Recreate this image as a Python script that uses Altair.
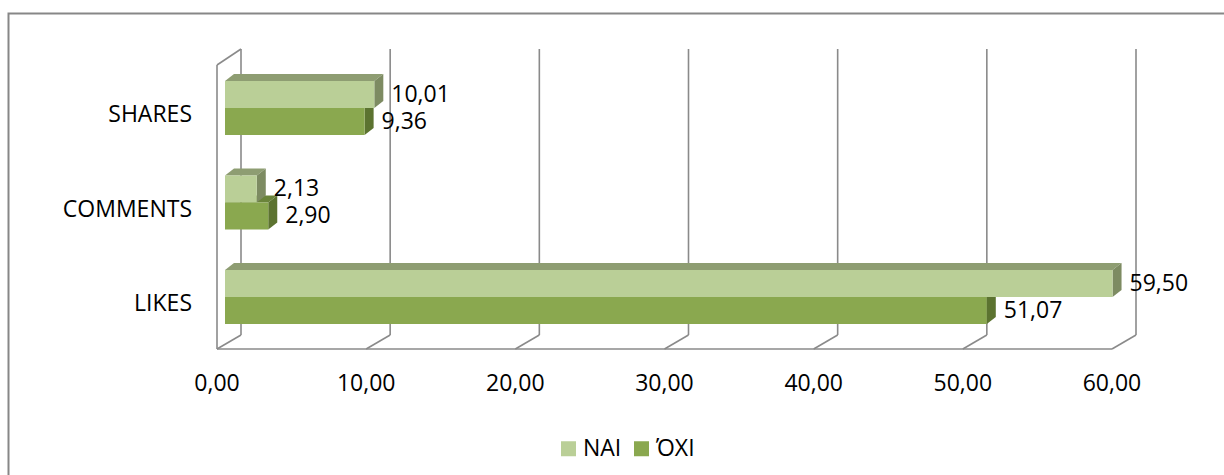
import altair as alt
import pandas as pd

# ---- data -------------------------------------------------------------
CATEGORIES = ["LIKES", "COMMENTS", "SHARES"]          # bottom to top
SERIES = ["ΝΑΙ", "ΌΧΙ"]
NAI_VALUES = [59.50, 2.13, 10.01]
OXI_VALUES = [51.07, 2.90, 9.36]
X_TICKS = [0, 10, 20, 30, 40, 50, 60]

# ---- layout (pixels) ----------------------------------------------------
LEFT, TOP, PLOT_W, PLOT_H = 225, 40, 895, 320
X_MAX = 60
PX_PER_UNIT = PLOT_W / X_MAX
ROW_PX = 94.5                 # distance between category rows
ROW0_PX = 257                 # plot-y of the LIKES row centre line


def ux(px):
    return px / PX_PER_UNIT


def uy(px):
    return px / ROW_PX


Y_DOMAIN = [(ROW0_PX - PLOT_H) / ROW_PX, ROW0_PX / ROW_PX]

BAR_H = uy(27)                # height of one bar
DEPTH_X, DEPTH_Y = ux(9), uy(7)   # 3-D extrusion of the bars
FRONT_X, BACK_X = ux(-8), ux(16)  # floor front edge / back wall
FLOOR_FRONT, FLOOR_BACK = uy(-52), uy(-38)
WALL_TOP_FRONT, WALL_TOP_BACK = uy(232), uy(248)

FONT = "Open Sans"
FONT_SIZE = 23
GRID = "#8a8a8a"

FRONT_COLORS = ["#bacf97", "#8aa84f"]
TOP_COLORS = ["#8e9d72", "#6a843a"]
SIDE_COLORS = ["#7d8b62", "#5c7330"]


def fmt(v):
    return f"{v:.2f}".replace(".", ",")


# ---- derived tables -----------------------------------------------------
front_rows, top_rows, side_rows, label_rows = [], [], [], []
for i, cat in enumerate(CATEGORIES):
    for s, vals in zip(SERIES, [NAI_VALUES, OXI_VALUES]):
        v = vals[i]
        lo, hi = (i, i + BAR_H) if s == SERIES[0] else (i - BAR_H, i)
        fid = f"{cat}-{s}"
        front_rows.append(dict(series=s, x0=0, x1=v, lo=lo, hi=hi))
        top_rows += [
            dict(series=s, face=fid, y=hi, xa=0, xb=v),
            dict(series=s, face=fid, y=hi + DEPTH_Y, xa=DEPTH_X, xb=v + DEPTH_X),
        ]
        side_rows += [
            dict(series=s, face=fid, x=v, ya=lo, yb=hi),
            dict(series=s, face=fid, x=v + DEPTH_X, ya=lo + DEPTH_Y, yb=hi + DEPTH_Y),
        ]
        label_rows.append(dict(x=v + DEPTH_X, y=(lo + hi) / 2, text=fmt(v)))

front_df = pd.DataFrame(front_rows)
top_df = pd.DataFrame(top_rows)
side_df = pd.DataFrame(side_rows)
label_df = pd.DataFrame(label_rows)

grid_df = pd.DataFrame(dict(x=[t + BACK_X for t in X_TICKS],
                            y=FLOOR_BACK, y2=WALL_TOP_BACK))
diag_df = pd.DataFrame(dict(x=[t + BACK_X for t in X_TICKS], y=FLOOR_BACK,
                            x2=[t + FRONT_X for t in X_TICKS], y2=FLOOR_FRONT))
edge_df = pd.DataFrame(dict(
    x=[X_TICKS[0] + FRONT_X, X_TICKS[0] + FRONT_X, X_TICKS[0] + FRONT_X],
    y=[FLOOR_FRONT, FLOOR_FRONT, WALL_TOP_FRONT],
    x2=[X_TICKS[-1] + FRONT_X, X_TICKS[0] + FRONT_X, X_TICKS[0] + BACK_X],
    y2=[FLOOR_FRONT, WALL_TOP_FRONT, WALL_TOP_BACK],
))
tick_df = pd.DataFrame(dict(x=[t + FRONT_X for t in X_TICKS],
                            text=[fmt(t) for t in X_TICKS]))
cat_df = pd.DataFrame(dict(y=[i - uy(7) for i in range(len(CATEGORIES))],
                           text=CATEGORIES))

xs = alt.Scale(domain=[0, X_MAX], nice=False, zero=False)
ys = alt.Scale(domain=Y_DOMAIN, nice=False, zero=False)


def X(f, **kw):
    return alt.X(f, scale=xs, axis=None, **kw)


def Y(f, **kw):
    return alt.Y(f, scale=ys, axis=None, **kw)


# ---- layers -------------------------------------------------------------
frame = alt.Chart(pd.DataFrame({"a": [0]})).mark_rect(
    fillOpacity=0, stroke="#878787", strokeWidth=2
).encode(
    x=alt.value(8.5 - LEFT), x2=alt.value(1400),
    y=alt.value(13.5 - TOP), y2=alt.value(700),
)

grid = alt.Chart(grid_df).mark_rule(color=GRID, strokeWidth=1.6).encode(
    x=X("x:Q"), y=Y("y:Q"), y2="y2:Q")
diags = alt.Chart(diag_df).mark_rule(color=GRID, strokeWidth=1.6).encode(
    x=X("x:Q"), y=Y("y:Q"), x2="x2:Q", y2="y2:Q")
edges = alt.Chart(edge_df).mark_rule(color=GRID, strokeWidth=1.6).encode(
    x=X("x:Q"), y=Y("y:Q"), x2="x2:Q", y2="y2:Q")

tops = alt.Chart(top_df).mark_area(orient="horizontal").encode(
    y=Y("y:Q"), x=X("xa:Q", stack=None), x2="xb:Q", detail="face:N",
    color=alt.Color("series:N", scale=alt.Scale(domain=SERIES, range=TOP_COLORS),
                    legend=None),
)
sides = alt.Chart(side_df).mark_area(orient="vertical").encode(
    x=X("x:Q"), y=Y("ya:Q", stack=None), y2="yb:Q", detail="face:N",
    color=alt.Color("series:N", scale=alt.Scale(domain=SERIES, range=SIDE_COLORS),
                    legend=None),
)
fronts = alt.Chart(front_df).mark_rect().encode(
    x=X("x0:Q"), x2="x1:Q", y=Y("lo:Q"), y2="hi:Q",
    color=alt.Color(
        "series:N",
        scale=alt.Scale(domain=SERIES, range=FRONT_COLORS),
        legend=alt.Legend(
            orient="none", legendX=332, legendY=397, direction="horizontal",
            title=None, symbolType="square", symbolSize=225,
            symbolStrokeWidth=0, labelFont=FONT, labelFontSize=FONT_SIZE,
            labelColor="#000000", labelOffset=3, columnPadding=8, padding=0,
        ),
    ),
)

labels = alt.Chart(label_df).mark_text(
    align="left", baseline="middle", dx=8, font=FONT, fontSize=FONT_SIZE,
    color="#000000",
).encode(x=X("x:Q"), y=Y("y:Q"), text="text:N")

ticks = alt.Chart(tick_df).mark_text(
    align="center", baseline="middle", font=FONT, fontSize=FONT_SIZE,
    color="#000000",
).encode(x=X("x:Q"), y=alt.value(383.5 - TOP), text="text:N")

cats = alt.Chart(cat_df).mark_text(
    align="right", baseline="middle", font=FONT, fontSize=FONT_SIZE,
    color="#000000",
).encode(x=alt.value(192 - LEFT), y=Y("y:Q"), text="text:N")

chart = alt.layer(
    frame, grid, diags, edges, tops, sides, fronts, labels, ticks, cats
).resolve_scale(color="independent").properties(
    width=PLOT_W, height=PLOT_H,
    autosize=alt.AutoSizeParams(type="none"),
    padding={"left": LEFT, "top": TOP, "right": 1224 - LEFT - PLOT_W,
             "bottom": 475 - TOP - PLOT_H},
    background="#ffffff",
).configure(font=FONT, view=alt.ViewConfig(stroke="transparent"))

chart.save("out.html", embed_options={"renderer": "svg", "actions": False})
